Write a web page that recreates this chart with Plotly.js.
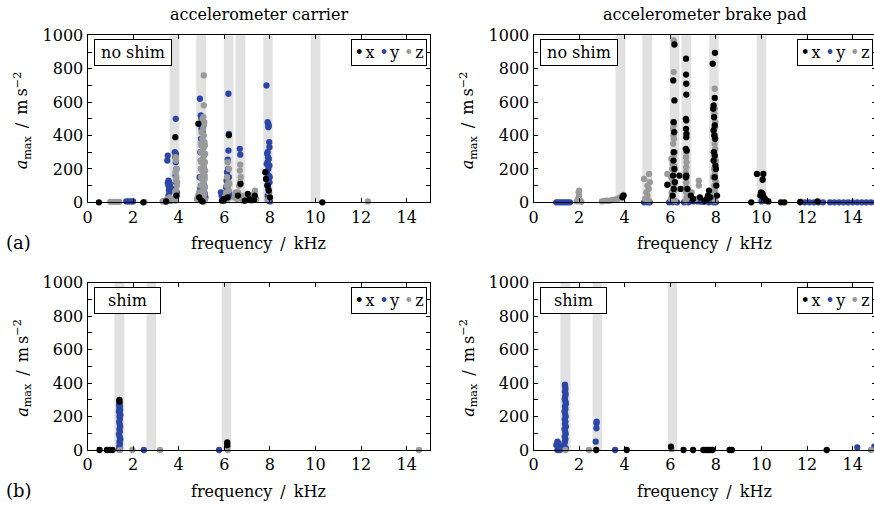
<!DOCTYPE html>
<html>
<head>
<meta charset="utf-8">
<script src="https://cdn.plot.ly/plotly-3.0.1.min.js"></script>
<style>
html, body { margin: 0; padding: 0; overflow: hidden; background: #fff; }
#chart { width: 877px; height: 505px; }
</style>
</head>
<body>
<div id="chart"></div>
<script>
// ---------------- data (frequency in kHz, a_max in m s^-2) ----------------
const panelTitles = ["accelerometer carrier", "accelerometer brake pad"];
const rowLabels = ["no shim", "shim"];
const rowTags = ["(a)", "(b)"];
const seriesNames = ["x", "y", "z"];
const xTicks = [0, 2, 4, 6, 8, 10, 12, 14];
const yTicks = [0, 200, 400, 600, 800, 1000];

// carrier, no shim
const cnX_f = [0.5, 2.45, 3.45, 3.85, 3.9, 4.86, 4.9, 5.0, 5.05, 5.9, 6.0, 6.2, 6.15, 6.6, 6.71, 6.9, 7.03, 7.1, 7.3, 7.34, 7.8, 7.83, 7.9, 7.95, 8.0, 10.3];
const cnX_a = [0, 0, 5, 390, 40, 470, 30, 10, 5, 10, 20, 402, 30, 40, 110, 10, 50, 20, 15, 40, 180, 140, 100, 70, 30, 0];
const cnY_f = [1.7, 1.8, 1.9, 2.0, 3.4, 3.52, 3.5, 3.55, 3.58, 3.6, 3.55, 3.62, 3.6, 3.57, 3.6, 3.55, 3.6, 3.65, 3.52, 3.58,
  3.87, 3.83, 3.88, 3.85, 3.87, 3.9, 3.86, 3.88, 3.84, 3.9, 3.82, 3.92,
  4.93, 4.97, 5.0, 5.03, 5.0, 5.05, 4.98, 4.95, 5.07, 5.1, 4.92, 5.12, 5.15, 4.88, 4.95, 5.17,
  6.18, 6.2, 6.18, 6.15, 6.17, 6.12, 6.2, 6.1, 6.15, 6.05, 5.85, 5.88, 6.2, 6.0, 6.08, 6.22,
  6.68, 6.7,
  7.85, 7.9, 7.92, 7.95, 7.93, 7.97, 7.98, 7.9, 7.88, 7.92, 7.95, 7.9, 7.98, 7.93, 7.87, 7.95, 7.9, 7.98, 7.88, 7.93, 7.96, 7.9, 7.95, 8.0, 7.86, 7.99, 7.91];
const cnY_a = [5, 5, 5, 5, 5, 280, 250, 130, 120, 110, 100, 95, 85, 75, 60, 40, 20, 10, 115, 90,
  500, 300, 290, 270, 240, 200, 160, 120, 80, 40, 20, 60,
  620, 520, 500, 460, 440, 420, 380, 300, 250, 200, 150, 100, 50, 20, 80, 30,
  650, 410, 310, 255, 200, 180, 150, 130, 100, 60, 60, 40, 30, 10, 90, 50,
  320, 285,
  700, 480, 470, 460, 450, 360, 330, 300, 290, 270, 260, 240, 220, 200, 180, 160, 140, 120, 100, 80, 60, 40, 20, 5, 230, 150, 110];
const cnZ_f = [1.0, 1.1, 1.2, 1.3, 1.4, 2.5, 3.3, 3.4, 3.5, 3.6, 3.7,
  3.87, 3.88, 3.9, 3.86, 3.9, 3.88, 3.92, 3.87, 3.9, 3.85, 3.93, 3.84,
  4.8, 4.85, 4.9,
  5.1, 5.1, 5.08, 5.05, 5.12, 5.1, 5.07, 5.0, 5.1, 5.03, 5.13, 4.99, 5.08, 5.02, 5.12, 5.05, 5.0, 5.1, 4.98, 5.06, 5.14, 5.02, 5.09, 5.0, 5.12, 5.04, 5.08, 4.99, 5.1,
  4.97, 5.15, 4.98, 5.16, 4.96, 5.15, 4.97, 5.16, 4.98, 5.14, 4.96, 5.15, 5.0, 5.13, 4.97, 5.16,
  6.15, 6.2, 6.12, 6.18, 6.1, 6.2, 6.05, 6.15, 6.08, 6.22,
  6.7, 6.68, 6.72, 6.7, 6.65, 6.6, 6.5, 6.45, 6.55, 6.75, 6.8,
  7.0, 7.35, 7.3, 7.4, 7.2,
  7.95, 8.0, 7.9, 12.3];
const cnZ_a = [3, 3, 3, 3, 3, 2, 5, 10, 20, 30, 15,
  270, 250, 200, 180, 150, 130, 100, 70, 40, 10, 120, 60,
  20, 40, 60,
  760, 580, 510, 500, 480, 460, 440, 420, 400, 380, 360, 340, 320, 300, 280, 260, 240, 220, 200, 180, 160, 140, 120, 100, 80, 60, 40, 20, 5,
  350, 340, 300, 290, 250, 240, 200, 190, 150, 140, 100, 90, 60, 50, 20, 15,
  240, 200, 150, 120, 100, 70, 40, 20, 60, 110,
  225, 190, 150, 120, 100, 60, 60, 30, 20, 40, 10,
  20, 70, 50, 20, 10,
  60, 30, 15, 5];

// brake pad, no shim
const bnX_f = [3.95, 3.9, 5.87, 6.18, 6.13, 6.18, 6.15, 6.17, 6.15, 6.14, 6.18, 6.12, 6.2, 6.15, 6.1, 6.4, 6.45,
  6.69, 6.69, 6.7, 6.7, 6.68, 6.7, 6.69, 6.71, 6.7, 6.68, 6.72, 6.7, 6.68, 6.75, 6.9, 7.0, 7.3, 7.5, 7.6, 7.65, 7.7, 7.75,
  7.86, 7.96, 7.95, 7.9, 7.88, 7.92, 7.95, 7.9, 7.93, 7.97, 7.91, 7.95, 7.9, 7.98, 8.0, 7.95, 8.02, 8.05,
  9.55, 9.8, 10.08, 10.05, 9.98, 10.0, 10.05, 9.95, 10.1, 10.15, 10.2, 10.3, 10.85, 11.0, 11.7, 12.46];
const bnX_a = [40, 30, 105, 945, 730, 610, 480, 420, 300, 250, 200, 160, 120, 80, 40, 160, 80,
  860, 765, 710, 645, 500, 490, 440, 410, 390, 320, 310, 160, 150, 80, 40, 20, 30, 10, 20, 40, 70, 30,
  830, 895, 625, 580, 560, 510, 460, 430, 400, 380, 300, 280, 250, 220, 200, 150, 100, 40,
  0, 170, 170, 135, 60, 55, 50, 40, 30, 20, 10, 5, 0, 0, 3, 5];
const bnY_f = [1.0, 1.1, 1.2, 1.3, 1.4, 1.5, 1.6, 4.85, 5.0, 5.1, 5.95, 6.1, 6.3, 6.6, 6.8, 7.0, 7.1, 7.2, 7.3, 7.4, 7.5, 7.7, 7.9, 8.0, 10.0,
  11.7, 11.9, 12.1, 12.3, 12.5, 12.7, 13.0, 13.2, 13.4, 13.6, 13.8, 14.0, 14.2, 14.4, 14.6, 14.8, 15.0];
const bnY_a = [0, 0, 0, 0, 0, 0, 0, 0, 0, 0, 0, 0, 0, 0, 0, 5, 8, 5, 6, 4, 3, 0, 0, 0, 5,
  0, 0, 0, 0, 0, 0, 0, 0, 0, 0, 0, 0, 0, 0, 0, 0, 0];
const bnZ_f = [2.0, 1.98, 2.0, 1.95, 2.05, 1.9, 2.1,
  3.0, 3.1, 3.2, 3.3, 3.4, 3.5, 3.6, 3.7, 3.8, 3.9, 3.95,
  4.85, 5.07, 5.1, 5.0, 5.05, 4.95, 5.0, 4.9, 5.05,
  5.87, 6.15, 6.15, 6.13, 6.15, 6.12, 6.14, 6.16, 6.13, 6.15, 6.12, 6.17, 6.15, 6.13, 6.1, 6.15, 6.18, 6.12, 6.2,
  6.05, 6.08, 6.04, 6.09, 6.06, 6.2, 6.03, 6.1,
  6.7, 6.69, 6.71, 6.7, 6.68, 6.72, 6.7, 6.69, 6.7, 6.72, 6.68,
  6.94, 7.25, 7.25, 7.1,
  7.95, 7.95, 7.93, 7.97, 7.95, 7.93, 7.96, 7.95, 7.94, 7.97, 7.93, 7.95, 7.96, 7.92, 7.95, 7.97, 7.93, 7.95, 7.9, 7.95,
  7.88, 8.0, 7.89, 8.01];
const bnZ_a = [70, 60, 40, 20, 10, 5, 3,
  5, 8, 10, 8, 12, 15, 18, 22, 30, 40, 45,
  140, 170, 120, 100, 80, 60, 40, 20, 10,
  170, 970, 780, 480, 460, 440, 400, 380, 350, 280, 250, 220, 190, 160, 130, 100, 70, 40, 10,
  260, 200, 150, 110, 60, 300, 20, 230,
  300, 270, 240, 210, 180, 150, 120, 90, 60, 30, 10,
  60, 130, 100, 20,
  680, 560, 530, 480, 450, 440, 400, 380, 350, 320, 300, 270, 240, 200, 170, 130, 100, 70, 40, 10,
  150, 250, 60, 120];

// carrier, shim
const csX_f = [0.53, 0.85, 1.0, 1.1, 1.4, 1.4, 6.13, 6.13];
const csX_a = [0, 0, 0, 0, 300, 290, 45, 30];
const csY_f = [1.4, 1.41, 1.39, 1.42, 1.4, 1.43, 1.38, 1.41, 1.44, 1.4, 1.42, 1.39, 1.41, 1.43, 1.4, 1.42, 1.38, 1.41, 1.44, 1.4, 1.42, 1.39, 1.41, 1.4, 2.47, 5.77, 6.13];
const csY_a = [280, 275, 268, 260, 250, 240, 230, 220, 210, 200, 185, 170, 155, 140, 125, 110, 95, 80, 65, 50, 35, 20, 10, 2, 0, 0, 20];
const csZ_f = [1.43, 1.97, 3.18, 6.15, 14.54];
const csZ_a = [0, 0, 0, 0, 0];

// brake pad, shim
const bsX_f = [2.75, 4.09, 6.03, 6.58, 7.0, 7.45, 7.55, 7.65, 7.75, 7.85, 8.6, 8.7, 12.86];
const bsX_a = [0, 0, 20, 0, 0, 0, 0, 0, 0, 0, 0, 0, 0];
const bsY_f = [1.0, 1.05, 1.1, 1.15, 1.2, 1.05, 1.15, 1.25,
  1.38, 1.39, 1.4, 1.38, 1.41, 1.39, 1.37, 1.4, 1.42, 1.38, 1.4, 1.36, 1.39, 1.41, 1.37, 1.4, 1.38, 1.42, 1.36, 1.39, 1.41, 1.37, 1.4, 1.38, 1.35, 1.42,
  2.73, 2.76, 2.76, 2.77, 3.58, 14.2, 14.95, 15.0];
const bsY_a = [30, 50, 40, 20, 10, 0, 0, 5,
  390, 380, 365, 350, 335, 320, 305, 290, 275, 260, 245, 230, 215, 200, 185, 170, 155, 140, 125, 110, 95, 80, 65, 50, 30, 10,
  50, 130, 160, 170, 0, 15, 20, 5];
const bsZ_f = [1.4, 2.43, 6.05, 14.8];
const bsZ_a = [0, 0, 5, 0];

// shaded frequency bands (kHz)
const bandsNoShim = [[3.6, 4.03], [4.77, 5.2], [5.98, 6.4], [6.49, 6.92], [7.71, 8.12], [9.79, 10.21]];
const bandsShim = [[1.18, 1.62], [2.59, 3.01], [5.89, 6.3]];

// ---------------- styling ----------------
const W = 877, H = 505;
const FONT = "DejaVu Serif";
const colors = { x: "#000000", y: "#2c46a6", z: "#9a9a9a" };
const px = v => v / W;
const py = v => 1 - v / H;

const colsPx = [[87.5, 429.5], [533.5, 875.5]];
const rowsPx = [[35.3, 202.3], [282.7, 450]];

const panels = [
  { r: 0, c: 0, X: [cnX_f, cnX_a], Y: [cnY_f, cnY_a], Z: [cnZ_f, cnZ_a], bands: bandsNoShim },
  { r: 0, c: 1, X: [bnX_f, bnX_a], Y: [bnY_f, bnY_a], Z: [bnZ_f, bnZ_a], bands: bandsNoShim },
  { r: 1, c: 0, X: [csX_f, csX_a], Y: [csY_f, csY_a], Z: [csZ_f, csZ_a], bands: bandsShim },
  { r: 1, c: 1, X: [bsX_f, bsX_a], Y: [bsY_f, bsY_a], Z: [bsZ_f, bsZ_a], bands: bandsShim }
];

const traces = [];
const shapes = [];
const annotations = [];
const layout = {
  width: W, height: H,
  margin: { l: 0, r: 0, t: 0, b: 0 },
  paper_bgcolor: "#ffffff", plot_bgcolor: "#ffffff",
  showlegend: false,
  font: { family: FONT, size: 16, color: "#000" }
};

panels.forEach((p, i) => {
  const n = i + 1;
  const xa = "x" + (n === 1 ? "" : n), ya = "y" + (n === 1 ? "" : n);
  const xKey = "xaxis" + (n === 1 ? "" : n), yKey = "yaxis" + (n === 1 ? "" : n);
  const cx = colsPx[p.c], ry = rowsPx[p.r];
  layout[xKey] = {
    domain: [px(cx[0]), px(cx[1])], anchor: ya, range: [0, 15],
    tickvals: xTicks, ticktext: xTicks.map(String),
    ticks: "inside", ticklen: 4, tickwidth: 1, tickcolor: "#000",
    showline: true, linecolor: "#000", linewidth: 1, mirror: "ticks",
    showgrid: false, zeroline: false,
    tickfont: { family: FONT, size: 16, color: "#000" }
  };
  layout[yKey] = {
    domain: [py(ry[1]), py(ry[0])], anchor: xa, range: [0, 1000],
    tickvals: yTicks, ticktext: yTicks.map(String),
    ticks: "inside", ticklen: 4, tickwidth: 1, tickcolor: "#000",
    minor: { ticks: "inside", dtick: 100, ticklen: 4, tickwidth: 1, tickcolor: "#000" },
    showline: true, linecolor: "#000", linewidth: 1, mirror: "ticks",
    showgrid: false, zeroline: false,
    tickfont: { family: FONT, size: 16, color: "#000" }
  };
  p.bands.forEach(b => shapes.push({
    type: "rect", xref: xa, yref: ya + " domain", x0: b[0], x1: b[1], y0: 0, y1: 1,
    fillcolor: "#e1e1e1", line: { width: 0 }, layer: "below"
  }));
  [["y", p.Y], ["z", p.Z], ["x", p.X]].forEach(([k, d]) => traces.push({
    type: "scatter", mode: "markers", name: k, x: d[0], y: d[1], xaxis: xa, yaxis: ya,
    cliponaxis: false, marker: { size: 6.3, color: colors[k], line: { width: 0 } }
  }));

  // "no shim" / "shim" box
  const boxW = p.r === 0 ? 76 : 65;
  annotations.push({
    xref: "paper", yref: "paper", x: px(cx[0] + 6), y: py(ry[0] + 4), xanchor: "left", yanchor: "top",
    text: rowLabels[p.r], showarrow: false, font: { family: FONT, size: 16, color: "#000" },
    bordercolor: "#000", borderwidth: 1, borderpad: 0, bgcolor: "#fff", width: boxW, height: 25
  });
  // legend box
  const leg = seriesNames.map(s => `<span style="color:${colors[s]}">•</span>\u200A${s}`).join("\u2009\u200A");
  annotations.push({
    xref: "paper", yref: "paper", x: px(cx[1] - 3), y: py(ry[0] + 4), xanchor: "right", yanchor: "top",
    text: leg, showarrow: false, font: { family: FONT, size: 16, color: "#000" },
    bordercolor: "#000", borderwidth: 1, borderpad: 0, bgcolor: "#fff", width: 74, height: 25
  });
  // axis titles
  annotations.push({
    xref: "paper", yref: "paper", x: px((cx[0] + cx[1]) / 2), y: py(ry[1] + 41), xanchor: "center", yanchor: "middle",
    text: "frequency\u2002/\u2002kHz", showarrow: false, font: { family: FONT, size: 16, color: "#000" }
  });
  annotations.push({
    xref: "paper", yref: "paper", x: px(cx[0] - 65), y: py((ry[0] + ry[1]) / 2 + 2), xanchor: "center", yanchor: "middle",
    textangle: -90, text: "<i>a</i><sub>max</sub>\u2002/\u2002m\u2009s<sup>−2</sup>", showarrow: false,
    font: { family: FONT, size: 16, color: "#000" }
  });
});

panelTitles.forEach((t, c) => annotations.push({
  xref: "paper", yref: "paper", x: px((colsPx[c][0] + colsPx[c][1]) / 2), y: py(14), xanchor: "center", yanchor: "middle",
  text: t, showarrow: false, font: { family: FONT, size: 16, color: "#000" }
}));
rowTags.forEach((t, r) => annotations.push({
  xref: "paper", yref: "paper", x: px(4), y: py(rowsPx[r][1] + 40), xanchor: "left", yanchor: "middle",
  text: t, showarrow: false, font: { family: FONT, size: 18, color: "#000" }
}));

layout.shapes = shapes;
layout.annotations = annotations;

Plotly.newPlot("chart", traces, layout, { staticPlot: true, displayModeBar: false });
</script>
</body>
</html>
